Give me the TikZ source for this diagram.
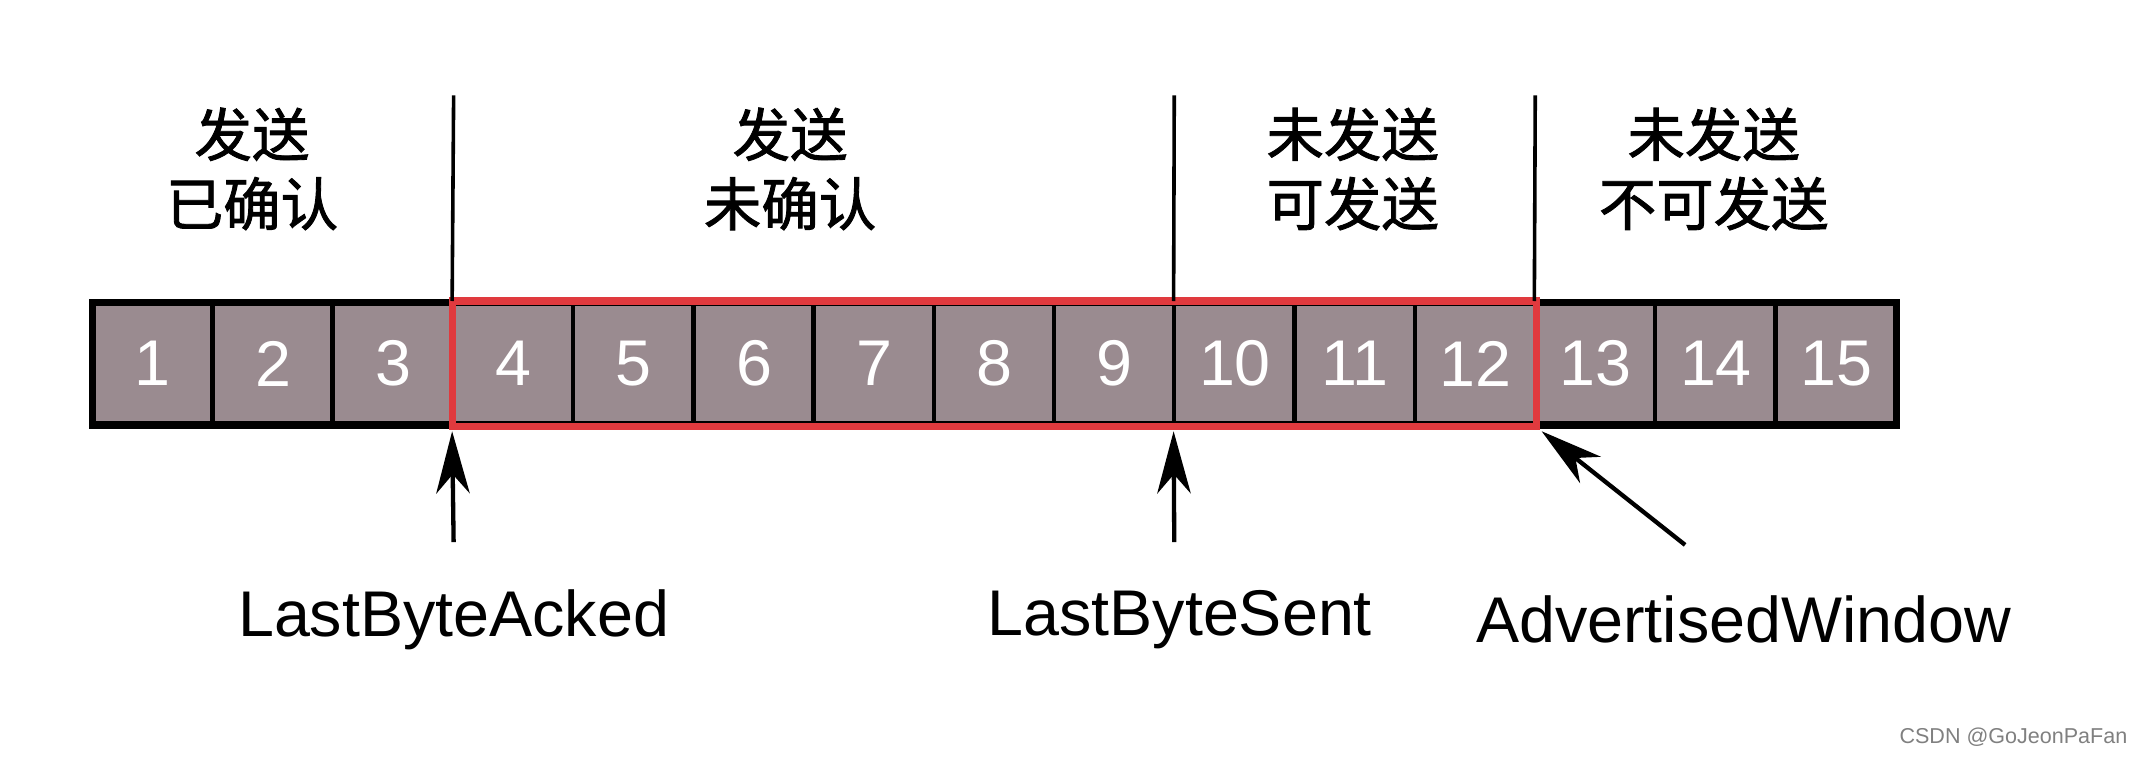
\documentclass[tikz,border=0pt]{standalone}
\usepackage{fontspec}
\setmainfont{Liberation Sans}
\newfontfamily\cjk[FakeBold=1.5]{Noto Sans CJK SC}
\usetikzlibrary{arrows.meta}
\definecolor{cellc}{HTML}{9A8B90}
\definecolor{redb}{HTML}{E03A3E}
\begin{document}
\begin{tikzpicture}[x=0.02cm,y=-0.02cm,
  cell/.style={draw=black,line width=1.2pt,fill=cellc,minimum width=1.76cm,minimum height=1.8cm,inner sep=0pt,text=white,font=\fontsize{27}{30}\selectfont},
  divider/.style={line width=1.5pt},
  ptr/.style={line width=1.8pt,-{Stealth[length=26pt,width=14pt,inset=8pt]}},
  lab/.style={font=\fontsize{27}{30}\selectfont},
  head/.style={font=\cjk\fontsize{24}{29}\selectfont,align=center}]
\useasboundingbox (0,0) rectangle (1568,555);
\foreach \i in {1,...,15}{
  \node[cell] (c\i) at ({68+88.27*(\i-0.5)},267) {\i};
}
\draw[line width=3pt] (68,222) rectangle (1392,312);
\foreach \i in {1,...,15}{ \draw[line width=1.2pt] (c\i.north west) -- (c\i.south west); }
\draw[redb,line width=3pt] (c4.north west) rectangle (c12.south east);
\coordinate (t1) at (333,70); \coordinate (t2) at (862,70); \coordinate (t3) at (1127,70);
\draw[divider] (t1) -- (c4.north west);
\draw[divider] (t2) -- (c10.north west);
\draw[divider] (t3) -- (c13.north west);
\node[head] (h1) at (185,124) {发送\\已确认};
\node[head] (h2) at (580,124) {发送\\未确认};
\node[head] (h3) at (993,124) {未发送\\可发送};
\node[head] (h4) at (1258,124) {未发送\\不可发送};
\coordinate (a1) at (333,398); \coordinate (a2) at (862,398); \coordinate (a3) at (1237,400);
\draw[ptr] (a1) -- ([yshift=-2pt]c4.south west);
\draw[ptr] (a2) -- ([yshift=-2pt]c10.south west);
\draw[ptr] (a3) -- ([xshift=2pt,yshift=-2pt]c12.south east);
\node[lab] (l1) at (333,455) {LastByteAcked};
\node[lab] (l2) at (866,455) {LastByteSent};
\node[lab] (l3) at (1280,455) {AdvertisedWindow};
\node[text=gray,font=\fontsize{9}{10}\selectfont,anchor=east,inner sep=0pt] (wm) at (1562,541) {CSDN @GoJeonPaFan};
\end{tikzpicture}
\end{document}
